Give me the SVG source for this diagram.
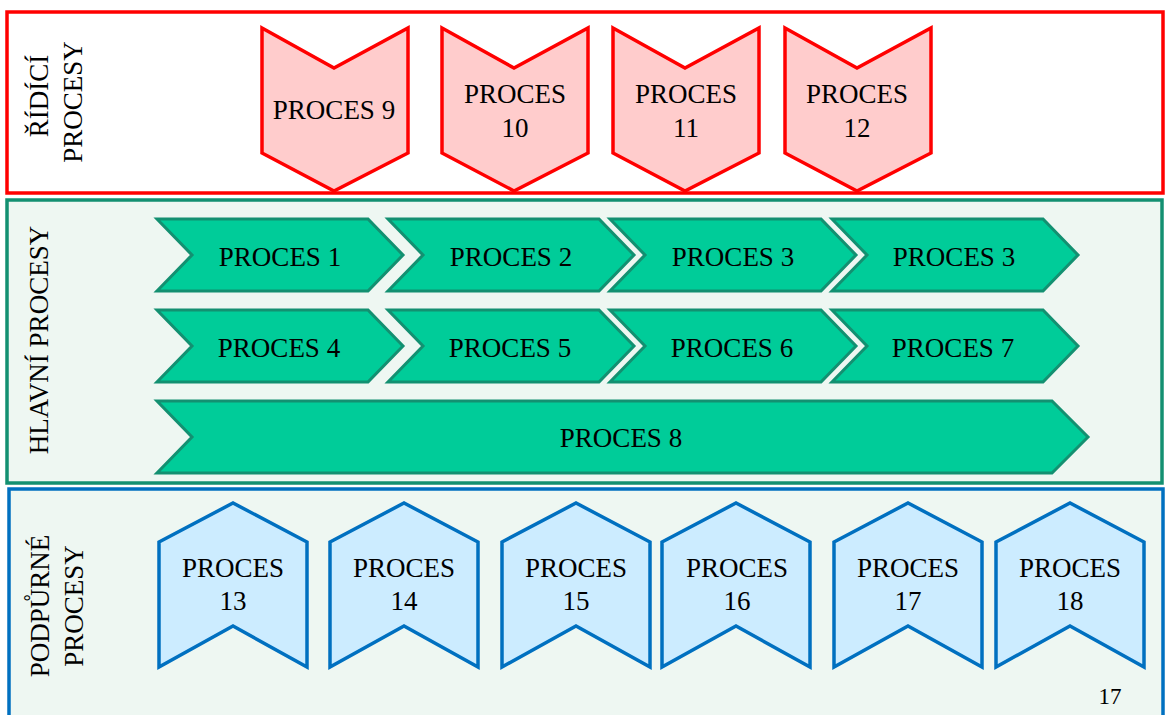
<svg xmlns="http://www.w3.org/2000/svg" width="1166" height="715" viewBox="0 0 1166 715" font-family="'Liberation Serif', 'Times New Roman', 'DejaVu Serif', serif">
<style>
  text { font-family: 'Liberation Serif', 'Times New Roman', Times, 'DejaVu Serif', serif; font-size: 27px; fill: #000; text-anchor: middle; }
  .lane-red { fill: #FFFFFF; stroke: #FF0000; stroke-width: 3.5; }
  .lane-green { fill: #EEF7F2; stroke: #139071; stroke-width: 3.5; }
  .lane-blue { fill: #EEF7F2; stroke: #0070C0; stroke-width: 3.5; }
  .red { fill: #FFCCCC; stroke: #FF0000; stroke-width: 3.5; stroke-linejoin: miter; }
  .green { fill: #00CC99; stroke: #139071; stroke-width: 3; stroke-linejoin: miter; }
  .blue { fill: #CCECFF; stroke: #0070C0; stroke-width: 3.5; stroke-linejoin: miter; }
  .pg { font-size: 23px; }
</style>
<defs>
  <polygon id="downChev" points="0,0 72,40 146,0 146,125 72,163 0,125"/>
  <polygon id="hChev" points="0,0 211,0 246,36 211,72 0,72 35,36"/>
  <polygon id="upChev" points="0,39 74,0 148,39 148,164 74,123 0,164"/>
</defs>

<g id="lanes">
  <rect id="lane-ridici" class="lane-red" x="7" y="12" width="1156" height="181"/>
  <rect id="lane-hlavni" class="lane-green" x="7" y="200" width="1155" height="283"/>
  <rect id="lane-podporne" class="lane-blue" x="9" y="489" width="1154" height="240"/>
</g>

<g id="lane-labels">
  <text transform="translate(48,96) rotate(-90)">ŘÍDÍCÍ</text>
  <text transform="translate(82,102) rotate(-90)">PROCESY</text>
  <text transform="translate(48,340) rotate(-90)">HLAVNÍ PROCESY</text>
  <text transform="translate(49,606) rotate(-90)">PODPŮRNÉ</text>
  <text transform="translate(83,606) rotate(-90)">PROCESY</text>
</g>

<g id="p9"><use href="#downChev" class="red" x="262" y="28"/><text x="334" y="119">PROCES 9</text></g>
<g id="p10"><use href="#downChev" class="red" x="442" y="28"/><text x="515" y="103">PROCES</text><text x="515" y="137">10</text></g>
<g id="p11"><use href="#downChev" class="red" x="613" y="28"/><text x="686" y="103">PROCES</text><text x="686" y="137">11</text></g>
<g id="p12"><use href="#downChev" class="red" x="785" y="28"/><text x="857" y="103">PROCES</text><text x="857" y="137">12</text></g>

<g id="p1"><use href="#hChev" class="green" x="157" y="219"/><text x="280" y="266">PROCES 1</text></g>
<g id="p2"><use href="#hChev" class="green" x="388" y="219"/><text x="511" y="266">PROCES 2</text></g>
<g id="p3a"><use href="#hChev" class="green" x="610" y="219"/><text x="733" y="266">PROCES 3</text></g>
<g id="p3b"><use href="#hChev" class="green" x="832" y="219"/><text x="954" y="266">PROCES 3</text></g>

<g id="p4"><use href="#hChev" class="green" x="157" y="310"/><text x="279" y="357">PROCES 4</text></g>
<g id="p5"><use href="#hChev" class="green" x="388" y="310"/><text x="510" y="357">PROCES 5</text></g>
<g id="p6"><use href="#hChev" class="green" x="610" y="310"/><text x="732" y="357">PROCES 6</text></g>
<g id="p7"><use href="#hChev" class="green" x="832" y="310"/><text x="953" y="357">PROCES 7</text></g>

<g id="p8"><polygon class="green" points="157,401 1052,401 1088,437 1052,473 157,473 192,437"/><text x="621" y="447">PROCES 8</text></g>

<g id="p13"><use href="#upChev" class="blue" x="159" y="503"/><text x="233" y="577">PROCES</text><text x="233" y="610">13</text></g>
<g id="p14"><use href="#upChev" class="blue" x="330" y="503"/><text x="404" y="577">PROCES</text><text x="404" y="610">14</text></g>
<g id="p15"><use href="#upChev" class="blue" x="502" y="503"/><text x="576" y="577">PROCES</text><text x="576" y="610">15</text></g>
<g id="p16"><use href="#upChev" class="blue" x="662" y="503"/><text x="737" y="577">PROCES</text><text x="737" y="610">16</text></g>
<g id="p17"><use href="#upChev" class="blue" x="834" y="503"/><text x="908" y="577">PROCES</text><text x="908" y="610">17</text></g>
<g id="p18"><use href="#upChev" class="blue" x="996" y="503"/><text x="1070" y="577">PROCES</text><text x="1070" y="610">18</text></g>

<g id="connectors"></g>

<text class="pg" x="1110" y="704">17</text>
</svg>
